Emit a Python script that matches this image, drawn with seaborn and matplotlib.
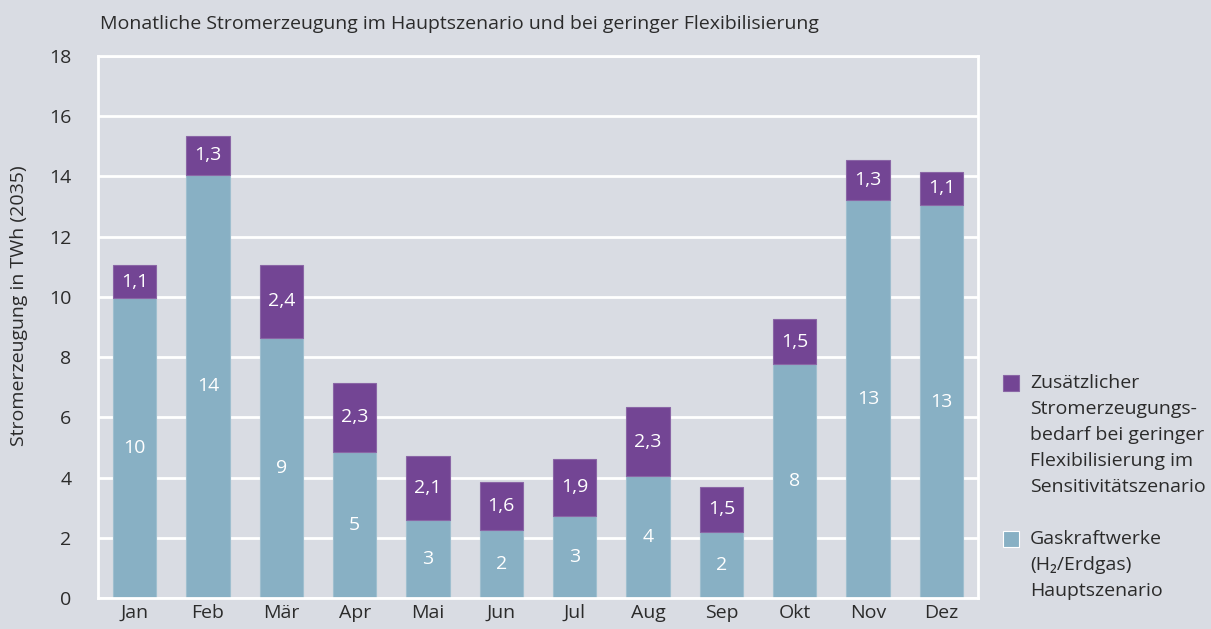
import matplotlib
matplotlib.use("Agg")
import matplotlib.pyplot as plt
from matplotlib.patches import Rectangle
import seaborn as sns
import pandas as pd

# Daten
monate = ["Jan", "Feb", "Mär", "Apr", "Mai", "Jun", "Jul", "Aug", "Sep", "Okt", "Nov", "Dez"]
gas_haupt = [9.95, 14.05, 8.65, 4.85, 2.6, 2.25, 2.73, 4.04, 2.19, 7.76, 13.23, 13.05]
zusatz = [1.1, 1.3, 2.4, 2.3, 2.1, 1.6, 1.9, 2.3, 1.5, 1.5, 1.3, 1.1]

df = pd.DataFrame({"Monat": monate, "Gas": gas_haupt, "Zusatz": zusatz})

bg = "#d9dce3"
blau = "#88b0c4"
lila = "#734594"
textfarbe = "#2b2b2b"
fs = 14

sns.set_style("white")
plt.rcParams["font.family"] = ["Open Sans", "DejaVu Sans"]

fig = plt.figure(figsize=(12.11, 6.29), dpi=100, facecolor=bg)
ax = fig.add_axes([0.0809, 0.0493, 0.7267, 0.8617], facecolor=bg)

sns.barplot(data=df, x="Monat", y="Gas", color=blau, width=0.59,
            edgecolor="#9fbfcf", linewidth=0.8, ax=ax, saturation=1, zorder=2)
sns.barplot(data=df, x="Monat", y="Zusatz", bottom=df["Gas"], color=lila, width=0.59,
            edgecolor="#8a66a6", linewidth=0.8, ax=ax, saturation=1, zorder=2)

ax.bar_label(ax.containers[0], labels=[f"{v:.0f}" for v in gas_haupt],
             label_type="center", color="white", fontsize=fs)
ax.bar_label(ax.containers[1], labels=[f"{v:.1f}".replace(".", ",") for v in zusatz],
             label_type="center", color="white", fontsize=fs)

ax.set_ylim(0, 18)
ax.set_yticks(range(0, 19, 2))
ax.set_xlim(-0.5, len(monate) - 0.5)
ax.grid(axis="y", color="white", linewidth=2, zorder=0)
ax.set_axisbelow(True)
for s in ax.spines.values():
    s.set_visible(True)
    s.set_color("white")
    s.set_linewidth(2)

ax.tick_params(axis="y", length=0, pad=19, labelsize=fs, labelcolor=textfarbe)
ax.tick_params(axis="x", length=0, pad=4, labelsize=fs, labelcolor=textfarbe)
ax.set_xlabel("")
ax.set_ylabel("Stromerzeugung in TWh (2035)", fontsize=fs, color=textfarbe)
ax.yaxis.set_label_coords(-0.079, 0.54)

fig.text(100 / 1211, 1 - 24 / 629, "Monatliche Stromerzeugung im Hauptszenario und bei geringer Flexibilisierung",
         fontsize=fs, color=textfarbe, ha="left", va="center")

# Legende
eintraege = [
    (lila, "#8a66a6", 383, "Zusätzlicher\nStromerzeugungs-\nbedarf bei geringer\nFlexibilisierung im\nSensitivitätszenario"),
    (blau, "white", 539, "Gaskraftwerke\n(H₂/Erdgas)\nHauptszenario"),
]
for farbe, rand, ypx, text in eintraege:
    fig.patches.append(Rectangle((1003 / 1211, 1 - (ypx + 8) / 629), 16 / 1211, 16 / 629,
                                 transform=fig.transFigure, facecolor=farbe,
                                 edgecolor=rand, linewidth=0.8))
    fig.text(1030 / 1211, 1 - (ypx - 9) / 629, text, fontsize=fs, color=textfarbe,
             ha="left", va="top", linespacing=1.57)

fig.savefig("out.png", dpi=100, facecolor=bg)
